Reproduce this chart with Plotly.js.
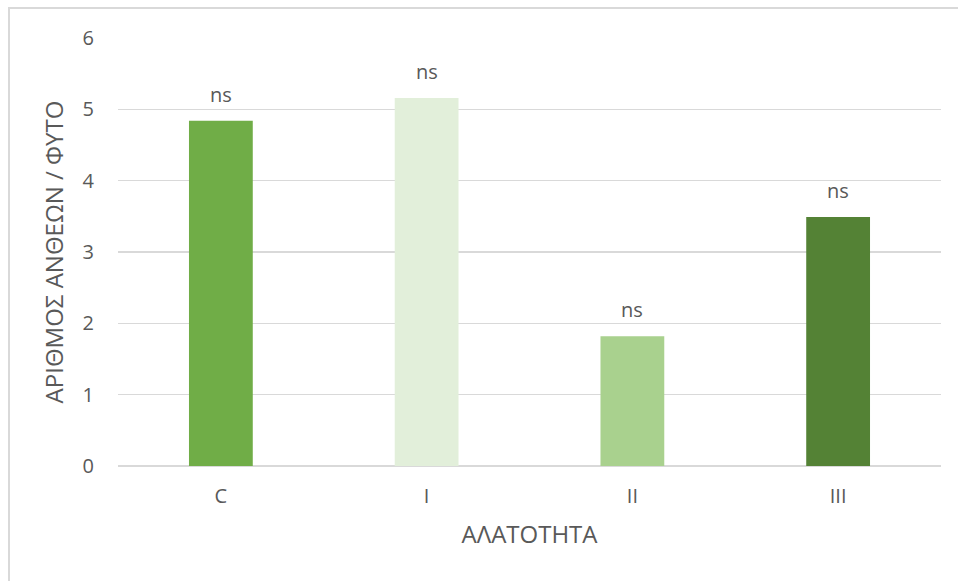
<!DOCTYPE html>
<html>
<head>
<meta charset="utf-8">
<script src="https://cdn.plot.ly/plotly-3.0.1.min.js"></script>
<style>
  html, body { margin: 0; padding: 0; background: #fff; }
  #wrap { position: relative; width: 958px; height: 581px; overflow: hidden; }
  #chart { position: absolute; left: 0; top: 0; width: 958px; height: 581px; }
  #frame { position: absolute; left: 8px; top: 7px; width: 960px; height: 580px;
           border-left: 2px solid #d9d9d9; border-top: 2px solid #d9d9d9; pointer-events: none; }
</style>
</head>
<body>
<div id="wrap">
  <div id="chart"></div>
  <div id="frame"></div>
</div>
<script>
const categories = ["C", "I", "II", "III"];
const values = [4.84, 5.16, 1.82, 3.49];
const labels = ["ns", "ns", "ns", "ns"];
const barColors = ["#70AD47", "#E2EFDA", "#A9D18E", "#548235"];
const yTicks = [0, 1, 2, 3, 4, 5, 6];
const xTitle = "ΑΛΑΤΟΤΗΤΑ";
const yTitle = "ΑΡΙΘΜΟΣ ΑΝΘΕΩΝ / ΦΥΤΟ";

const font = "Open Sans, Liberation Sans, sans-serif";
const grey = "#595959";

const trace = {
  type: "bar",
  x: categories,
  y: values,
  marker: { color: barColors },
  hoverinfo: "skip"
};

const annotations = categories.map((c, i) => ({
  x: c, y: values[i], xref: "x", yref: "y",
  text: labels[i], showarrow: false,
  yanchor: "bottom", yshift: 11,
  font: { family: font, size: 20, color: grey }
}));

const layout = {
  width: 958, height: 581,
  margin: { l: 118, r: 17, t: 38, b: 115 },
  paper_bgcolor: "#ffffff",
  plot_bgcolor: "#ffffff",
  bargap: 0.69,
  showlegend: false,
  font: { family: font, color: grey },
  xaxis: {
    type: "category",
    range: [-0.5, 3.5],
    showgrid: false,
    showline: false,
    zeroline: false,
    ticks: "",
    ticklabelstandoff: 16,
    tickfont: { family: font, size: 20, color: grey },
    title: { text: xTitle, font: { family: font, size: 24, color: grey }, standoff: 18 }
  },
  yaxis: {
    range: [0, 6],
    tickvals: yTicks,
    showgrid: true,
    gridcolor: "#d9d9d9",
    gridwidth: 1.5,
    zeroline: true,
    zerolinecolor: "#d9d9d9",
    zerolinewidth: 1.5,
    showline: false,
    ticks: "",
    ticklabelstandoff: 23,
    tickfont: { family: font, size: 20, color: grey },
    title: { text: yTitle, font: { family: font, size: 24, color: grey }, standoff: 12 }
  },
  annotations: annotations
};

Plotly.newPlot("chart", [trace], layout, { staticPlot: true, displayModeBar: false });
</script>
</body>
</html>
